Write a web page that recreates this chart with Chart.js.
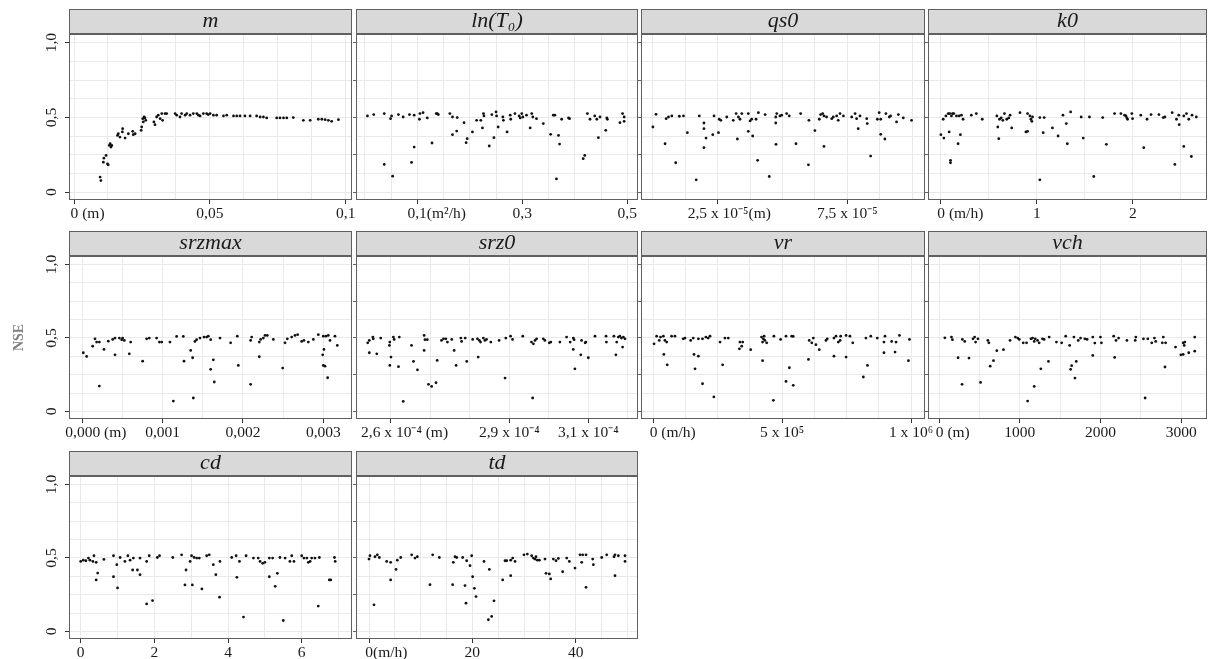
<!DOCTYPE html>
<html>
<head>
<meta charset="utf-8">
<script src="https://cdn.jsdelivr.net/npm/chart.js@4"></script>
<style>
  html, body { margin: 0; padding: 0; background: #fff; }
  #wrap { position: relative; width: 1211px; height: 659px; overflow: hidden; }
  #wrap canvas { position: absolute; left: 0; top: 0; }
</style>
</head>
<body>
<div id="wrap"></div>
<script>
// ---- data (x, NSE) ----
const mPoints = [[0.0096,0.101],[0.0099,0.078],[0.0108,0.201],[0.0110,0.228],[0.0118,0.246],[0.0123,0.190],[0.0126,0.183],[0.0130,0.313],[0.0133,0.324],[0.0136,0.302],[0.0139,0.313],[0.0160,0.380],[0.0163,0.391],[0.0169,0.369],[0.0178,0.403],[0.0179,0.425],[0.0188,0.362],[0.0200,0.391],[0.0216,0.407],[0.0218,0.385],[0.0225,0.391],[0.0247,0.414],[0.0249,0.436],[0.0253,0.492],[0.0255,0.470],[0.0258,0.503],[0.0261,0.497],[0.0264,0.481],[0.0294,0.470],[0.0298,0.452],[0.0304,0.503],[0.0310,0.515],[0.0317,0.492],[0.0323,0.526],[0.0326,0.481],[0.0335,0.526],[0.0341,0.526],[0.0372,0.526],[0.0378,0.515],[0.0390,0.503],[0.0396,0.526],[0.0409,0.515],[0.0415,0.526],[0.0427,0.515],[0.0439,0.526],[0.0452,0.526],[0.0458,0.515],[0.0464,0.510],[0.0476,0.526],[0.0488,0.526],[0.0494,0.519],[0.0501,0.526],[0.0513,0.515],[0.0525,0.515],[0.0550,0.510],[0.0562,0.515],[0.0587,0.510],[0.0599,0.510],[0.0611,0.510],[0.0629,0.510],[0.0648,0.510],[0.0672,0.510],[0.0685,0.503],[0.0697,0.503],[0.0709,0.497],[0.0746,0.497],[0.0758,0.497],[0.0771,0.497],[0.0783,0.497],[0.0807,0.499],[0.0844,0.481],[0.0869,0.481],[0.0899,0.488],[0.0912,0.488],[0.0924,0.485],[0.0936,0.481],[0.0948,0.474],[0.0973,0.485]];

const lnT0Points = [[0.005,0.510],[0.017,0.519],[0.037,0.526],[0.049,0.492],[0.051,0.510],[0.064,0.519],[0.073,0.503],[0.085,0.519],[0.094,0.515],[0.104,0.488],[0.105,0.526],[0.111,0.532],[0.119,0.497],[0.136,0.526],[0.138,0.526],[0.140,0.519],[0.162,0.526],[0.167,0.503],[0.176,0.499],[0.189,0.465],[0.213,0.481],[0.221,0.481],[0.226,0.526],[0.227,0.510],[0.242,0.519],[0.250,0.537],[0.251,0.510],[0.263,0.503],[0.264,0.481],[0.277,0.515],[0.278,0.488],[0.286,0.526],[0.294,0.510],[0.296,0.497],[0.299,0.526],[0.301,0.503],[0.308,0.515],[0.318,0.526],[0.320,0.503],[0.327,0.492],[0.340,0.459],[0.359,0.515],[0.362,0.515],[0.375,0.488],[0.388,0.497],[0.390,0.492],[0.424,0.526],[0.429,0.488],[0.438,0.510],[0.442,0.488],[0.448,0.503],[0.461,0.497],[0.462,0.488],[0.486,0.465],[0.491,0.526],[0.494,0.474],[0.494,0.503],
  [0.037,0.186],[0.053,0.107],[0.089,0.199],[0.094,0.302],[0.128,0.329],[0.167,0.385],[0.175,0.409],[0.193,0.331],[0.195,0.358],[0.205,0.403],[0.224,0.430],[0.237,0.309],[0.246,0.365],[0.254,0.436],[0.271,0.403],[0.315,0.430],[0.354,0.387],[0.365,0.089],[0.369,0.380],[0.371,0.322],[0.416,0.224],[0.419,0.246],[0.445,0.365],[0.459,0.414]];

// qs0 in units of 1e-5 m
const qs0Points = [[0.00,0.436],[0.12,0.521],[0.51,0.492],[0.60,0.503],[0.73,0.510],[1.02,0.508],[1.18,0.510],[1.79,0.510],[2.36,0.510],[2.56,0.488],[2.62,0.481],[2.85,0.503],[3.10,0.481],[3.21,0.526],[3.30,0.503],[3.36,0.488],[3.43,0.526],[3.68,0.526],[3.75,0.477],[3.81,0.488],[3.98,0.488],[4.07,0.532],[4.33,0.519],[4.74,0.503],[4.78,0.526],[4.90,0.510],[4.97,0.515],[5.16,0.526],[5.26,0.510],[5.70,0.526],[6.02,0.481],[6.42,0.488],[6.47,0.519],[6.55,0.526],[6.60,0.510],[6.70,0.503],[6.90,0.492],[6.96,0.503],[7.09,0.510],[7.15,0.481],[7.22,0.526],[7.35,0.510],[7.67,0.503],[7.80,0.526],[7.86,0.492],[7.99,0.510],[8.25,0.492],[8.27,0.459],[8.66,0.488],[8.73,0.532],[8.79,0.488],[8.99,0.526],[9.12,0.503],[9.17,0.510],[9.40,0.470],[9.47,0.519],[9.66,0.497],[9.98,0.481],
  [0.47,0.324],[0.88,0.197],[1.33,0.398],[1.67,0.083],[1.97,0.463],[1.97,0.425],[1.97,0.298],[2.05,0.362],[2.31,0.385],[2.53,0.398],[3.26,0.356],[3.68,0.407],[3.85,0.376],[4.04,0.213],[4.49,0.105],[4.74,0.463],[4.75,0.320],[5.52,0.324],[6.00,0.183],[6.25,0.412],[6.60,0.306],[7.92,0.425],[8.40,0.242],[8.79,0.387],[8.95,0.356]];

const k0Points = [[0.024,0.488],[0.052,0.510],[0.076,0.526],[0.093,0.526],[0.110,0.510],[0.121,0.526],[0.134,0.526],[0.162,0.510],[0.190,0.510],[0.214,0.515],[0.231,0.488],[0.317,0.515],[0.369,0.526],[0.431,0.488],[0.583,0.510],[0.610,0.488],[0.628,0.497],[0.645,0.481],[0.662,0.526],[0.686,0.488],[0.707,0.497],[0.721,0.515],[0.824,0.532],[0.903,0.526],[0.928,0.510],[0.938,0.488],[0.948,0.474],[0.955,0.503],[1.031,0.499],[1.076,0.499],[1.272,0.515],[1.352,0.537],[1.462,0.503],[1.548,0.503],[1.686,0.499],[1.810,0.526],[1.876,0.526],[1.914,0.515],[1.928,0.510],[1.938,0.497],[1.945,0.488],[1.990,0.526],[1.997,0.492],[2.083,0.515],[2.148,0.488],[2.190,0.519],[2.272,0.519],[2.317,0.499],[2.334,0.503],[2.410,0.532],[2.455,0.488],[2.479,0.515],[2.531,0.510],[2.559,0.526],[2.583,0.488],[2.617,0.515],[2.662,0.503],
  [0.000,0.385],[0.031,0.362],[0.086,0.403],[0.100,0.213],[0.100,0.197],[0.179,0.324],[0.203,0.385],[0.593,0.436],[0.603,0.358],[0.738,0.430],[0.886,0.403],[0.903,0.407],[1.031,0.083],[1.066,0.398],[1.162,0.430],[1.221,0.376],[1.307,0.459],[1.317,0.324],[1.483,0.362],[1.593,0.105],[1.724,0.320],[2.114,0.298],[2.438,0.186],[2.483,0.452],[2.531,0.306],[2.610,0.239]];

// srzmax in units of 1e-3 m
const srzmaxPoints = [[0.012,0.399],[0.054,0.374],[0.129,0.444],[0.158,0.494],[0.178,0.472],[0.212,0.472],[0.270,0.422],[0.324,0.478],[0.378,0.490],[0.407,0.499],[0.407,0.385],[0.461,0.499],[0.490,0.488],[0.502,0.499],[0.523,0.483],[0.585,0.392],[0.602,0.472],[0.801,0.494],[0.834,0.499],[0.925,0.499],[0.959,0.472],[0.988,0.472],[1.091,0.472],[1.174,0.510],[1.257,0.510],[1.402,0.476],[1.423,0.488],[1.465,0.499],[1.515,0.506],[1.548,0.506],[1.568,0.512],[1.598,0.488],[1.714,0.499],[1.846,0.467],[1.929,0.512],[2.095,0.483],[2.108,0.506],[2.203,0.472],[2.220,0.490],[2.253,0.499],[2.274,0.517],[2.303,0.517],[2.378,0.490],[2.523,0.467],[2.552,0.494],[2.606,0.506],[2.647,0.517],[2.680,0.522],[2.730,0.476],[2.759,0.483],[2.813,0.472],[2.876,0.490],[2.938,0.522],[3.000,0.512],[3.033,0.512],[3.062,0.517],[3.083,0.483],[3.145,0.512],[3.174,0.449],
  [0.212,0.172],[0.751,0.342],[1.133,0.070],[1.266,0.342],[1.349,0.415],[1.373,0.365],[1.382,0.091],[1.598,0.286],[1.631,0.351],[1.643,0.200],[1.942,0.313],[2.203,0.372],[2.095,0.184],[2.494,0.295],[2.992,0.385],[3.000,0.313],[3.008,0.422],[3.021,0.308],[3.054,0.229]];

// srz0 in units of 1e-4 m
const srz0Points = [[2.541,0.467],[2.545,0.483],[2.554,0.506],[2.555,0.494],[2.574,0.499],[2.596,0.449],[2.597,0.472],[2.606,0.506],[2.608,0.490],[2.621,0.506],[2.652,0.449],[2.684,0.517],[2.686,0.488],[2.692,0.488],[2.728,0.483],[2.733,0.494],[2.739,0.494],[2.743,0.472],[2.754,0.490],[2.777,0.499],[2.779,0.476],[2.788,0.499],[2.807,0.490],[2.819,0.494],[2.824,0.483],[2.827,0.472],[2.834,0.499],[2.838,0.483],[2.842,0.490],[2.853,0.472],[2.874,0.483],[2.891,0.499],[2.903,0.512],[2.908,0.490],[2.934,0.512],[2.956,0.472],[2.961,0.460],[2.965,0.483],[2.969,0.494],[2.986,0.494],[2.990,0.483],[3.001,0.467],[3.005,0.472],[3.028,0.472],[3.045,0.506],[3.054,0.472],[3.062,0.499],[3.064,0.488],[3.083,0.483],[3.092,0.467],[3.094,0.472],[3.117,0.512],[3.145,0.512],[3.146,0.472],[3.165,0.512],[3.172,0.472],[3.176,0.506],[3.180,0.512],[3.184,0.499],[3.189,0.506],[3.193,0.494],
  [2.545,0.399],[2.564,0.392],[2.597,0.313],[2.600,0.370],[2.619,0.304],[2.631,0.068],[2.657,0.340],[2.667,0.283],[2.684,0.415],[2.695,0.184],[2.703,0.170],[2.714,0.195],[2.717,0.347],[2.760,0.415],[2.765,0.313],[2.792,0.340],[2.821,0.370],[2.889,0.227],[2.959,0.091],[3.062,0.422],[3.066,0.290],[3.081,0.385],[3.100,0.365],[3.170,0.385],[3.187,0.438]];

// vr in units of 1e5 m/h
const vrPoints = [[0.03,0.460],[0.13,0.512],[0.23,0.483],[0.28,0.506],[0.39,0.512],[0.45,0.483],[0.52,0.472],[0.71,0.512],[0.84,0.512],[1.16,0.494],[1.23,0.499],[1.45,0.483],[1.55,0.499],[1.75,0.494],[1.91,0.494],[2.04,0.506],[2.13,0.499],[2.20,0.512],[2.59,0.472],[2.78,0.499],[2.91,0.499],[3.36,0.472],[3.47,0.472],[3.43,0.444],[3.78,0.420],[4.20,0.506],[4.24,0.472],[4.27,0.494],[4.30,0.512],[4.33,0.483],[4.40,0.467],[4.68,0.512],[4.94,0.490],[5.15,0.512],[5.37,0.512],[5.43,0.510],[6.05,0.483],[6.15,0.467],[6.21,0.499],[6.31,0.454],[6.44,0.420],[6.70,0.483],[6.75,0.494],[7.01,0.499],[7.09,0.512],[7.18,0.472],[7.25,0.483],[7.27,0.512],[7.48,0.517],[7.63,0.512],[7.74,0.467],[8.25,0.499],[8.44,0.512],[8.69,0.499],[8.95,0.472],[8.99,0.512],[9.25,0.476],[9.42,0.472],[9.55,0.517],[9.94,0.490],
  [0.41,0.388],[0.54,0.317],[1.58,0.388],[1.62,0.290],[1.75,0.376],[1.91,0.188],[2.35,0.098],[2.69,0.317],[3.34,0.426],[4.24,0.345],[4.66,0.075],[5.15,0.204],[5.28,0.297],[5.43,0.177],[6.02,0.354],[7.01,0.376],[7.48,0.370],[8.15,0.234],[8.31,0.313],[8.95,0.399],[9.38,0.404],[9.90,0.345]];

const vchPoints = [[70,0.501],[152,0.506],[164,0.488],[287,0.490],[316,0.476],[419,0.494],[439,0.506],[451,0.472],[480,0.494],[603,0.483],[616,0.467],[878,0.483],[944,0.506],[973,0.499],[993,0.490],[1042,0.467],[1083,0.467],[1137,0.494],[1157,0.499],[1178,0.476],[1190,0.494],[1219,0.483],[1239,0.467],[1280,0.494],[1301,0.490],[1363,0.506],[1453,0.472],[1518,0.467],[1568,0.512],[1617,0.449],[1670,0.506],[1724,0.483],[1752,0.499],[1806,0.494],[1834,0.490],[1904,0.506],[1929,0.465],[1999,0.506],[2011,0.467],[2163,0.512],[2192,0.483],[2224,0.499],[2327,0.483],[2430,0.483],[2438,0.506],[2532,0.494],[2586,0.494],[2635,0.467],[2668,0.499],[2684,0.476],[2778,0.506],[2766,0.467],[2807,0.467],[2930,0.438],[3025,0.467],[3037,0.449],[3045,0.472],[3168,0.506],
  [234,0.365],[283,0.184],[369,0.363],[513,0.197],[632,0.308],[673,0.345],[714,0.413],[796,0.420],[1260,0.290],[1178,0.170],[1096,0.070],[1354,0.340],[1629,0.286],[1642,0.311],[1683,0.227],[1699,0.340],[1904,0.381],[2175,0.367],[2553,0.091],[2799,0.302],[2996,0.385],[3025,0.388],[3094,0.399],[3168,0.410]];

const cdPoints = [[0.00,0.476],[0.07,0.485],[0.14,0.481],[0.21,0.499],[0.25,0.485],[0.33,0.476],[0.36,0.515],[0.42,0.470],[0.63,0.490],[0.89,0.515],[0.98,0.454],[1.07,0.503],[1.20,0.476],[1.28,0.515],[1.34,0.485],[1.43,0.499],[1.61,0.499],[1.79,0.476],[1.86,0.515],[2.08,0.503],[2.14,0.515],[2.50,0.503],[2.74,0.521],[2.97,0.476],[3.01,0.515],[3.08,0.503],[3.15,0.499],[3.22,0.499],[3.42,0.515],[3.49,0.521],[3.60,0.454],[3.78,0.476],[4.10,0.503],[4.22,0.515],[4.31,0.476],[4.49,0.515],[4.69,0.499],[4.82,0.499],[4.87,0.476],[4.94,0.463],[5.00,0.470],[5.12,0.499],[5.21,0.499],[5.41,0.503],[5.55,0.499],[5.68,0.476],[5.73,0.515],[5.79,0.476],[6.00,0.515],[6.06,0.499],[6.14,0.499],[6.18,0.470],[6.23,0.476],[6.27,0.499],[6.36,0.499],[6.48,0.503],[6.89,0.503],[6.91,0.476],
  [0.42,0.350],[0.46,0.397],[0.89,0.372],[1.00,0.296],[1.41,0.418],[1.54,0.418],[1.61,0.386],[1.79,0.187],[1.95,0.210],[2.86,0.418],[2.83,0.316],[3.03,0.316],[3.29,0.289],[3.67,0.386],[3.77,0.233],[4.24,0.368],[4.42,0.097],[5.12,0.372],[5.28,0.307],[5.34,0.395],[5.50,0.074],[6.45,0.172],[6.75,0.350],[6.79,0.350]];

const tdPoints = [[0.00,0.492],[0.19,0.515],[1.16,0.508],[1.61,0.521],[2.00,0.503],[3.42,0.476],[4.19,0.470],[5.48,0.485],[6.13,0.503],[8.26,0.521],[8.90,0.499],[9.35,0.508],[12.32,0.521],[13.61,0.503],[16.32,0.470],[16.65,0.508],[16.97,0.503],[18.13,0.503],[18.90,0.481],[19.87,0.515],[22.26,0.476],[26.32,0.481],[26.65,0.481],[27.42,0.485],[27.81,0.499],[28.26,0.476],[30.00,0.521],[30.65,0.526],[31.48,0.515],[31.81,0.499],[32.13,0.492],[32.32,0.508],[32.58,0.485],[32.97,0.485],[34.06,0.492],[35.68,0.492],[36.19,0.481],[36.65,0.497],[38.26,0.499],[38.77,0.476],[40.84,0.521],[41.16,0.470],[41.35,0.521],[42.00,0.521],[43.29,0.492],[43.42,0.454],[45.03,0.503],[46.00,0.521],[47.42,0.508],[47.61,0.521],[48.26,0.515],[49.55,0.515],[49.55,0.476],
  [0.97,0.181],[4.19,0.350],[5.23,0.422],[11.81,0.318],[16.19,0.318],[18.58,0.312],[18.77,0.192],[19.55,0.447],[20.06,0.372],[20.39,0.293],[20.71,0.237],[23.29,0.422],[24.19,0.208],[23.10,0.079],[23.74,0.102],[25.87,0.350],[27.42,0.379],[34.26,0.395],[34.90,0.391],[35.16,0.357],[37.48,0.406],[39.87,0.431],[42.00,0.300],[47.61,0.379]];

// ---- tick labels ----
const yTickValues = [0, 0.5, 1];
const yTickText = ['0', '0,5', '1,0'];

const mTicks = [0, 0.05, 0.1],        mText = ['0', '0,05', '0,1'],            mUnit = [' (m)', '', ''];
const lnT0Ticks = [0.1, 0.3, 0.5],    lnT0Text = ['0,1', '0,3', '0,5'],        lnT0Unit = ['(m\u00b2/h)', '', ''];
const qs0Ticks = [2.5, 7.5],          qs0Text = ['2,5 x 10\u207b\u2075', '7,5 x 10\u207b\u2075'], qs0Unit = ['(m)', ''];
const k0Ticks = [0, 1, 2],            k0Text = ['0', '1', '2'],                k0Unit = [' (m/h)', '', ''];
const srzmaxTicks = [0, 1, 2, 3],     srzmaxText = ['0,000', '0,001', '0,002', '0,003'], srzmaxUnit = [' (m)', '', '', ''];
const srz0Ticks = [2.6, 2.9, 3.1],    srz0Text = ['2,6 x 10\u207b\u2074', '2,9 x 10\u207b\u2074', '3,1 x 10\u207b\u2074'], srz0Unit = [' (m)', '', ''];
const vrTicks = [0, 5, 10],           vrText = ['0', '5 x 10\u2075', '1 x 10\u2076'], vrUnit = [' (m/h)', '', ''];
const vchTicks = [0, 1000, 2000, 3000], vchText = ['0', '1000', '2000', '3000'], vchUnit = [' (m)', '', '', ''];
const cdTicks = [0, 2, 4, 6],         cdText = ['0', '2', '4', '6'],           cdUnit = ['', '', '', ''];
const tdTicks = [0, 20, 40],          tdText = ['0', '20', '40'],              tdUnit = ['(m/h)', '', ''];

// ---- panel layout ----
const SERIF = '"Liberation Serif", "Times New Roman", serif';
const TICK_SIZE = 15.5;
const Y_MIN = -0.052, Y_MAX = 1.058;
const colEdges = [[69, 352], [356, 638], [641, 925], [928, 1209]];
const rowEdges = [[34, 200], [256, 419], [476, 639]];   // plot top, plot bottom
const STRIP = 25;
const CANVAS_W = 1211, CANVAS_H = 700;   // taller than the page so the last row's labels are not clipped by the layout

const panels = [
  {title: 'm',       pts: mPoints,      ticks: mTicks,      text: mText,      unit: mUnit,      range: [-0.00184, 0.1023], step: 0.0125, row: 0, col: 0},
  {title: 'ln(T\u2080)', pts: lnT0Points, ticks: lnT0Ticks, text: lnT0Text, unit: lnT0Unit, range: [-0.0168, 0.5204], step: 0.05, row: 0, col: 1},
  {title: 'qs0',     pts: qs0Points,    ticks: qs0Ticks,    text: qs0Text,    unit: qs0Unit,    range: [-0.459, 10.498], step: 1.25, row: 0, col: 2},
  {title: 'k0',      pts: k0Points,     ticks: k0Ticks,     text: k0Text,     unit: k0Unit,     range: [-0.1345, 2.773], step: 0.5, row: 0, col: 3},
  {title: 'srzmax',  pts: srzmaxPoints, ticks: srzmaxTicks, text: srzmaxText, unit: srzmaxUnit, range: [-0.1656, 3.357], step: 0.5, row: 1, col: 0},
  {title: 'srz0',    pts: srz0Points,   ticks: srz0Ticks,   text: srz0Text,   unit: srz0Unit,   range: [2.5113, 3.226], step: 0.1, row: 1, col: 1},
  {title: 'vr',      pts: vrPoints,     ticks: vrTicks,     text: vrText,     unit: vrUnit,     range: [-0.477, 10.543], step: 1.25, row: 1, col: 2},
  {title: 'vch',     pts: vchPoints,    ticks: vchTicks,    text: vchText,    unit: vchUnit,    range: [-139, 3320], step: 500, row: 1, col: 3},
  {title: 'cd',      pts: cdPoints,     ticks: cdTicks,     text: cdText,     unit: cdUnit,     range: [-0.318, 7.366], step: 1, row: 2, col: 0},
  {title: 'td',      pts: tdPoints,     ticks: tdTicks,     text: tdText,     unit: tdUnit,     range: [-2.516, 52.06], step: 5, row: 2, col: 1}
];

const wrap = document.getElementById('wrap');
const meas = document.createElement('canvas').getContext('2d');
meas.font = TICK_SIZE + 'px ' + SERIF;

// keep the number centred on its tick, unit hanging to the right
function padded(num, unit) {
  if (!unit) return num;
  const n = Math.round(meas.measureText(unit).width / meas.measureText(' ').width);
  return ' '.repeat(n) + num + unit;
}

function gridValues(min, max, step) {
  const out = [];
  for (let k = Math.ceil(min / step - 1e-9); k * step <= max + 1e-12; k++) out.push(+(k * step).toFixed(10));
  return out;
}

const yGrid = gridValues(0, 1, 0.125);

const panelFrame = {
  id: 'panelFrame',
  beforeDraw(chart) {
    const {ctx, chartArea: a} = chart;
    ctx.save();
    ctx.fillStyle = '#d9d9d9';
    ctx.fillRect(a.left, a.top - STRIP, a.right - a.left, STRIP);
    ctx.restore();
  },
  afterDraw(chart) {
    const {ctx, chartArea: a} = chart;
    ctx.save();
    ctx.strokeStyle = '#606060';
    ctx.lineWidth = 1;
    ctx.strokeRect(a.left + 0.5, a.top - STRIP + 0.5, a.right - a.left - 1, STRIP - 1);
    ctx.strokeRect(a.left + 0.5, a.top + 0.5, a.right - a.left - 1, a.bottom - a.top - 1);
    ctx.restore();
  }
};

panels.forEach(p => {
  const [L, R] = colEdges[p.col];
  const [H, B] = rowEdges[p.row];
  const first = p.col === 0;
  const yw = first ? 59 : 3;
  const xh = 30;
  const tol = p.step * 1e-4;
  const labelIndex = v => p.ticks.findIndex(t => Math.abs(t - v) < tol);
  const yLabelIndex = v => yTickValues.findIndex(t => Math.abs(t - v) < 1e-6);

  const xVals = gridValues(p.range[0], p.range[1], p.step);
  p.ticks.forEach(t => { if (!xVals.some(v => Math.abs(v - t) < tol)) xVals.push(t); });
  xVals.sort((a, b) => a - b);

  const cv = document.createElement('canvas');
  cv.width = CANVAS_W;
  cv.height = CANVAS_H;
  wrap.appendChild(cv);

  new Chart(cv, {
    type: 'scatter',
    data: {
      datasets: [{
        data: p.pts.map(([x, y]) => ({x, y})),
        pointRadius: 1.4,
        pointBackgroundColor: '#111',
        pointBorderWidth: 0
      }]
    },
    options: {
      responsive: false,
      animation: false,
      events: [],
      layout: {padding: {left: L - yw, right: CANVAS_W - R, top: H - STRIP, bottom: CANVAS_H - B - xh}},
      plugins: {
        legend: {display: false},
        tooltip: {enabled: false},
        title: {
          display: true, text: p.title, fullSize: false, color: '#1a1a1a', padding: 0,
          font: {family: SERIF, style: 'italic', weight: 'normal', size: 22, lineHeight: STRIP + 'px'}
        }
      },
      scales: {
        x: {
          type: 'linear', min: p.range[0], max: p.range[1],
          afterBuildTicks: s => { s.ticks = xVals.map(value => ({value})); },
          afterFit: s => { s.height = xh; },
          border: {display: false},
          grid: {
            color: '#e9e9e9', lineWidth: 1, tickLength: 4,
            tickColor: c => (c.tick && labelIndex(c.tick.value) >= 0) ? '#333' : 'rgba(0,0,0,0)'
          },
          ticks: {
            autoSkip: false, maxRotation: 0, minRotation: 0, padding: 1,
            color: '#1a1a1a', font: {family: SERIF, size: TICK_SIZE},
            callback: v => { const i = labelIndex(v); return i < 0 ? '' : padded(p.text[i], p.unit[i]); }
          }
        },
        y: {
          type: 'linear', min: Y_MIN, max: Y_MAX,
          afterBuildTicks: s => { s.ticks = yGrid.map(value => ({value})); },
          afterFit: s => { s.width = yw; },
          border: {display: false},
          grid: {
            color: '#e9e9e9', lineWidth: 1, tickLength: first ? 4 : 3,
            tickColor: c => {
              if (!c.tick) return 'rgba(0,0,0,0)';
              if (first) return yLabelIndex(c.tick.value) >= 0 ? '#333' : 'rgba(0,0,0,0)';
              return Math.abs(c.tick.value * 4 - Math.round(c.tick.value * 4)) < 1e-6 ? '#666' : 'rgba(0,0,0,0)';
            }
          },
          ticks: {
            display: first, autoSkip: false, minRotation: 90, maxRotation: 90,
            crossAlign: 'center', padding: 3,
            color: '#1a1a1a', font: {family: SERIF, size: TICK_SIZE},
            callback: v => { const i = yLabelIndex(v); return i < 0 ? '' : yTickText[i]; }
          },
          title: {
            display: first && p.row === 1, text: 'NSE', color: '#808080',
            font: {family: SERIF, weight: 'bold', size: 14}, padding: {top: 1, bottom: 0}
          }
        }
      }
    },
    plugins: [panelFrame]
  });
});
</script>
</body>
</html>
